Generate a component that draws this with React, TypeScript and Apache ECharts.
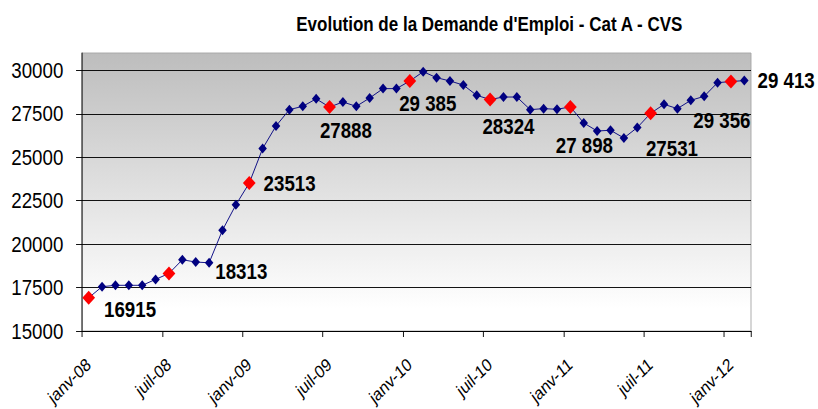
import React, { useEffect, useRef } from "react";
import * as echarts from "echarts";

const categories = [
  "janv-08", "févr-08", "mars-08", "avr-08", "mai-08", "juin-08", "juil-08", "août-08", "sept-08", "oct-08", "nov-08", "déc-08",
  "janv-09", "févr-09", "mars-09", "avr-09", "mai-09", "juin-09", "juil-09", "août-09", "sept-09", "oct-09", "nov-09", "déc-09",
  "janv-10", "févr-10", "mars-10", "avr-10", "mai-10", "juin-10", "juil-10", "août-10", "sept-10", "oct-10", "nov-10", "déc-10",
  "janv-11", "févr-11", "mars-11", "avr-11", "mai-11", "juin-11", "juil-11", "août-11", "sept-11", "oct-11", "nov-11", "déc-11",
  "janv-12", "févr-12",
];

const demandeEmploi = [
  16915, 17550, 17630, 17630, 17630, 17970, 18313, 19100, 18970, 18925, 20805, 22260,
  23513, 25500, 26800, 27741, 27931, 28360, 27888, 28180, 27930, 28410, 28950, 28950,
  29385, 29925, 29580, 29390, 29155, 28563, 28324, 28466, 28466, 27741, 27798, 27760,
  27898, 26971, 26511, 26552, 26109, 26707, 27531, 28046, 27798, 28276, 28506, 29293,
  29356, 29413,
];

// indices highlighted in red (every six months)
const highlighted = [0, 6, 12, 18, 24, 30, 36, 42, 48];

// annotated points and their texts
const labelIndex = [0, 6, 12, 18, 24, 30, 36, 42, 48, 49];
const labelText = ["16915", "18313", "23513", "27888", "29 385", "28324", "27 898", "27531", "29 356", "29 413"];

const yTicks = [15000, 17500, 20000, 22500, 25000, 27500, 30000];

const TITLE = "Evolution de la Demande d'Emploi - Cat A - CVS";

// layout: the chart is drawn wider and squeezed horizontally, like the original picture
const PAGE_W = 818;
const PAGE_H = 409;
const W = 962;
const S = PAGE_W / W;

// layout-only: label offsets relative to the marker (in unsqueezed units)
const labelOffsets: [number, number][] = [
  [10.6, 12], [47, -2], [9.4, 0], [-18.8, 23], [-20, 22], [-16.5, 27], [-24.7, 39], [-13, 35], [-51.8, 39], [10.6, 0],
];

const SANS = "'Liberation Sans', Arial, sans-serif";

export default function App() {
  const ref = useRef<HTMLDivElement>(null);

  useEffect(() => {
    document.body.style.margin = "0";
    document.body.style.overflow = "hidden";
    if (!ref.current) return;
    const chart = echarts.init(ref.current, undefined, { renderer: "svg" });

    const data = demandeEmploi.map((v, i) => {
      const isRed = highlighted.includes(i);
      const li = labelIndex.indexOf(i);
      const item: any = { value: v };
      if (isRed) {
        item.symbolSize = [15, 14];
        item.itemStyle = { color: "#ff0000" };
      }
      if (li >= 0) {
        item.label = {
          show: true,
          formatter: labelText[li],
          position: "right",
          distance: 0,
          offset: labelOffsets[li],
          fontFamily: SANS,
          fontWeight: "bold",
          fontSize: 22,
          color: "#000",
        };
      }
      return item;
    });

    chart.setOption({
      animation: false,
      title: {
        text: TITLE,
        left: 292 / S,
        top: 9,
        textStyle: { fontFamily: SANS, fontWeight: "bold", fontSize: 20, color: "#000" },
      },
      grid: {
        left: 82 / S,
        right: 67 / S,
        top: 53,
        bottom: 78,
        containLabel: false,
        outerBoundsMode: "none",
        show: true,
        borderColor: "#a6a6a6",
        borderWidth: 1,
        backgroundColor: new echarts.graphic.LinearGradient(0, 0, 0, 1, [
          { offset: 0, color: "#bdbdbd" },
          { offset: 0.92, color: "#ffffff" },
          { offset: 1, color: "#ffffff" },
        ]),
      },
      xAxis: {
        type: "category",
        data: categories,
        boundaryGap: true,
        axisLine: { show: true, lineStyle: { color: "#000", width: 1 } },
        axisTick: { show: true, interval: 5, length: 6, lineStyle: { color: "#000" } },
        axisLabel: {
          interval: 5,
          rotate: 40,
          margin: 31,
          fontFamily: SANS,
          fontSize: 18,
          color: "#000",
        },
        splitLine: { show: false },
      },
      yAxis: {
        type: "value",
        min: 15000,
        max: 31000,
        interval: 2500,
        axisLine: { show: true, lineStyle: { color: "#000", width: 1 } },
        axisTick: { show: true, length: 7, customValues: yTicks, lineStyle: { color: "#000" } },
        axisLabel: {
          customValues: yTicks,
          margin: 22,
          fontFamily: SANS,
          fontSize: 22,
          color: "#000",
          formatter: (v: number) => (v > 30000 ? "" : String(v)),
        },
        splitLine: {
          show: true,
          lineStyle: {
            color: ["#000", "#000", "#000", "#000", "#000", "#000", "#000", "#a6a6a6"],
            width: 1,
          },
        },
      },
      series: [
        {
          type: "line",
          data,
          symbol: "diamond",
          symbolSize: [10, 10],
          showAllSymbol: true,
          lineStyle: { color: "#000080", width: 1 },
          itemStyle: { color: "#000080" },
          emphasis: { disabled: true },
          z: 3,
        },
      ],
    });

    return () => chart.dispose();
  }, []);

  return (
    <div style={{ width: PAGE_W, height: PAGE_H, overflow: "hidden", position: "relative" }}>
      <div
        ref={ref}
        style={{ width: W, height: PAGE_H, transform: `scaleX(${S})`, transformOrigin: "0 0" }}
      />
    </div>
  );
}
